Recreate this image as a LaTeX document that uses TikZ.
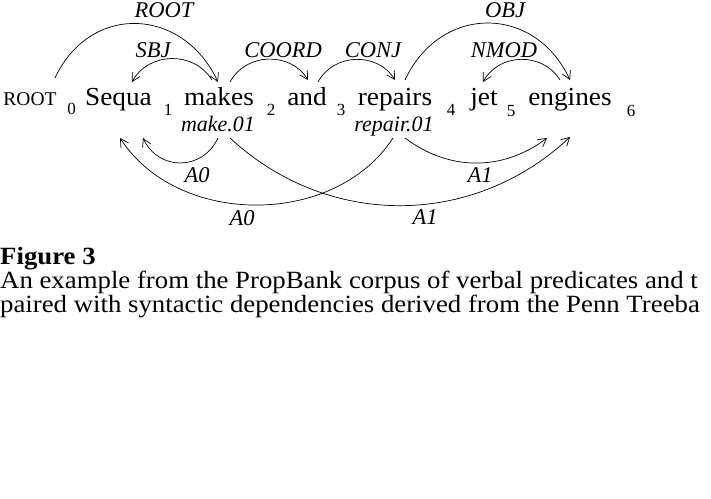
\documentclass[tikz,border=0pt]{standalone}
\usepackage{fontspec}
\setmainfont{Liberation Serif}
\newfontfamily\wordfont[FakeStretch=1.05]{Liberation Serif}
\newfontfamily\capfont[FakeStretch=1.08]{Liberation Serif}
\usetikzlibrary{arrows.meta,calc}

\tikzset{
  word/.style={font=\wordfont\fontsize{26}{26}\selectfont, inner sep=0pt, anchor=base},
  idx/.style={font=\fontsize{17}{17}\selectfont, inner sep=0pt, anchor=base},
  sense/.style={font=\itshape\fontsize{22}{22}\selectfont, inner sep=0pt, anchor=base},
  rel/.style={font=\itshape\fontsize{22.5}{22.5}\selectfont, inner sep=0pt, anchor=base},
  capline/.style={font=\capfont\fontsize{24.8}{22}\selectfont, inner sep=0pt, anchor=base west, align=left},
  dep/.style={line width=0.7pt, -{Straight Barb[length=8pt,width=9pt]}},
}

\begin{document}
\begin{tikzpicture}[x=1pt,y=1pt]
\useasboundingbox (0,0) rectangle (711,-498);

% Tokens
\node[word, font=\fontsize{19.5}{19.5}\selectfont] (root) at (30,-105) {ROOT};
\foreach \name/\x/\txt in {sequa/118.5/Sequa, makes/219/makes, and/307/and,
    repairs/395/repairs, jet/484/jet, engines/570/engines}
  \node[word] (\name) at (\x,-105) {\txt};

% Token indices
\foreach \n/\x/\y in {0/71.5/114, 1/168/115.5, 2/271/115.5, 3/341/115.5,
    4/451/115.5, 5/511/116, 6/631/116}
  \node[idx] (i\n) at (\x,-\y) {\n};

% Predicate senses
\node[sense] (make) at (218,-131) {make.01};
\node[sense] (repair) at (394,-131) {repair.01};

% Syntactic dependencies (above)
\draw[dep] ($(root.base)+(25,27)$) to[out=65,in=115,looseness=1.3] ($(makes.base)+(-1,23)$);
\draw[dep] ($(makes.base)+(-7,25)$) to[bend right=60,looseness=1.1] ($(sequa.base)+(13.5,23)$);
\draw[dep] ($(makes.base)+(11,23)$) to[bend left=60,looseness=1.1] ($(and.base)+(1,25)$);
\draw[dep] ($(and.base)+(11,23)$) to[bend left=60,looseness=1.1] ($(repairs.base)+(0,25)$);
\draw[dep] ($(repairs.base)+(10,25)$) to[out=65,in=115,looseness=1.3] ($(engines.base)+(0,25)$);
\draw[dep] ($(engines.base)+(-10,25)$) to[bend right=60,looseness=1.1] ($(jet.base)+(-1,23)$);

\node[rel] (lroot) at (164,-17) {ROOT};
\node[rel] (lsbj) at (153,-57) {SBJ};
\node[rel] (lcoord) at (283,-57) {COORD};
\node[rel] (lconj) at (373,-57) {CONJ};
\node[rel] (lobj) at (505,-17) {OBJ};
\node[rel] (lnmod) at (504,-57) {NMOD};

% Semantic arguments (below)
\draw[dep] ($(make.base)+(0,-7)$) to[bend left=65,looseness=1.25] ($(sequa.base)+(24.5,-33)$);
\draw[dep] ($(make.base)+(12,-7)$) to[bend right=43] ($(engines.base)+(0,-32)$);
\draw[dep] ($(repair.base)+(-1,-7)$) to[bend left=57] ($(sequa.base)+(1.5,-33)$);
\draw[dep] ($(repair.base)+(11,-7)$) to[bend right=37] ($(engines.base)+(-23,-33)$);

\node[rel] (la0a) at (197,-182) {A0};
\node[rel] (la1a) at (480,-182) {A1};
\node[rel] (la0b) at (242,-225) {A0};
\node[rel] (la1b) at (425,-224) {A1};

% Caption
\node[capline] (cap) at (0,-312) {\textbf{Figure 3}\\
  An example from the PropBank corpus of verbal predicates and t\\
  paired with syntactic dependencies derived from the Penn Treeba};

\end{tikzpicture}
\end{document}
